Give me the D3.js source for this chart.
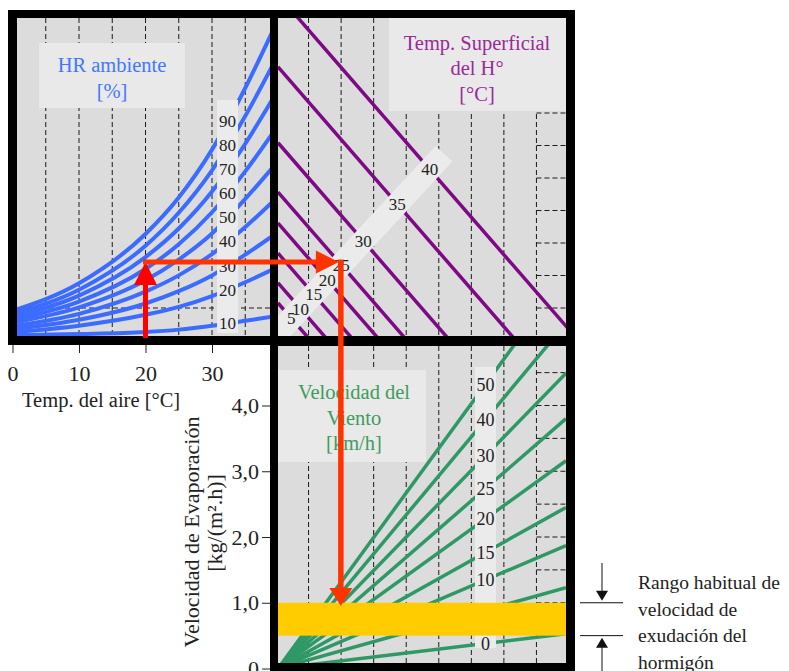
<!DOCTYPE html>
<html>
<head>
<meta charset="utf-8">
<title>Nomograma de evaporación</title>
<script src="https://cdn.jsdelivr.net/npm/d3@7"></script>
<style>
  body { margin: 0; background: #fff; }
  svg { display: block; }
  text { font-family: "Liberation Serif", "DejaVu Serif", serif; }
</style>
</head>
<body>
<div id="chart"></div>
<script>
// ---- values read off the nomograph ----
// top-left panel: air temperature (x) vs vapour pressure of the air, one curve per relative humidity
var airTemps = [0, 10, 20, 25, 30, 35, 39];
var humidityLevels = [90, 80, 70, 60, 50, 40, 30, 20, 10];
var hr90 = [0.55, 1.11, 2.11, 2.85, 3.82, 5.07, 6.19];
var hr80 = [0.49, 0.98, 1.87, 2.54, 3.40, 4.50, 5.50];
var hr70 = [0.43, 0.86, 1.64, 2.22, 2.97, 3.94, 4.82];
var hr60 = [0.37, 0.74, 1.40, 1.90, 2.55, 3.38, 4.13];
var hr50 = [0.31, 0.62, 1.17, 1.59, 2.12, 2.82, 3.44];
var hr40 = [0.24, 0.49, 0.94, 1.27, 1.70, 2.25, 2.75];
var hr30 = [0.18, 0.37, 0.70, 0.95, 1.27, 1.69, 2.06];
var hr20 = [0.12, 0.25, 0.47, 0.63, 0.85, 1.13, 1.38];
var hr10 = [0.06, 0.08, 0.12, 0.17, 0.25, 0.35, 0.43];
var humidityCurves = [hr90, hr80, hr70, hr60, hr50, hr40, hr30, hr20, hr10];

// top-right panel: concrete surface temperature lines (vapour pressure at the left edge)
var surfaceTemps = [5, 10, 15, 20, 25, 30, 35, 40];
var surfaceVapour = [0.71, 1.12, 1.72, 2.33, 2.96, 3.96, 5.50, 6.96];

// bottom panel: wind speed lines (evaporation rate at the right edge)
var windSpeeds = [0, 5, 10, 15, 20, 25, 30, 40, 50];
var windEvapAtEdge = [0.53, 1.23, 1.87, 2.45, 3.16, 3.80, 4.49, 5.25, 6.00];

var airTicks = [0, 10, 20, 30];
var evapTicks = [0, 1, 2, 3, 4];
var exudationRange = [0.5, 1.0];

// worked example drawn with the red arrows
var exampleAirTemp = 20;
var exampleVapour = 1.54;
var exampleSurfaceTemp = 25;
var exampleWind = 30;

var width = 789, height = 671;
var svg = d3.select("#chart").append("svg").attr("width", width).attr("height", height);

// panel inner areas
var A = {x0: 17, y0: 18, x1: 270, y1: 336};
var B = {x0: 278, y0: 18, x1: 566, y1: 336};
var C = {x0: 278, y0: 346, x1: 566, y1: 663};

var xT = d3.scaleLinear().domain([0, 40]).range([12.5, 278.5]);
var yV = d3.scaleLinear().domain([0, 6.5]).range([338, 17.5]);
var xD = d3.scaleLinear().domain([0, 6.72]).range([278, 566]);
var yE = d3.scaleLinear().domain([0, 4]).range([668.5, 405.5]);
// plain grid spacing of the right panels
var gx = d3.scaleLinear().domain([0, 9]).range([276, 569]);
var gy = d3.scaleLinear().domain([0, 10]).range([340.5, 15.5]);

var blue = "#3b6cff", purple = "#7d0a84", green = "#2f9966";

// black frames
svg.append("rect").attr("x", 8).attr("y", 10).attr("width", 567).attr("height", 335).attr("fill", "#000");
svg.append("rect").attr("x", 270).attr("y", 336).attr("width", 305).attr("height", 340).attr("fill", "#000");

var defs = svg.append("defs");
[["clipA", A], ["clipB", B], ["clipC", C]].forEach(function(p) {
  defs.append("clipPath").attr("id", p[0]).append("rect")
    .attr("x", p[1].x0).attr("y", p[1].y0)
    .attr("width", p[1].x1 - p[1].x0).attr("height", p[1].y1 - p[1].y0);
});

[A, B, C].forEach(function(p) {
  svg.append("rect").attr("x", p.x0).attr("y", p.y0)
    .attr("width", p.x1 - p.x0).attr("height", p.y1 - p.y0).attr("fill", "#dcdcdc");
});

function dash(g, x1, y1, x2, y2) {
  g.append("line").attr("x1", x1).attr("y1", y1).attr("x2", x2).attr("y2", y2)
    .attr("stroke", "#1a1a1a").attr("stroke-width", 1).attr("stroke-dasharray", "5,3");
}

// grids
var gA = svg.append("g").attr("clip-path", "url(#clipA)");
d3.range(5, 40, 5).forEach(function(t) { dash(gA, xT(t), A.y0, xT(t), A.y1); });
dash(gA, A.x0, gy(1), A.x1, gy(1));

var gB = svg.append("g").attr("clip-path", "url(#clipB)");
d3.range(1, 9).forEach(function(k) { dash(gB, gx(k), B.y0, gx(k), B.y1); });
d3.range(1, 8).forEach(function(k) { dash(gB, gx(8), gy(k), B.x1, gy(k)); });

var gC = svg.append("g").attr("clip-path", "url(#clipC)");
d3.range(1, 9).forEach(function(k) { dash(gC, gx(k), C.y0, gx(k), C.y1); });
d3.range(1, 4.6, 0.5).forEach(function(e) { dash(gC, gx(8), yE(e), C.x1, yE(e)); });

// title boxes
svg.append("rect").attr("x", 39).attr("y", 43).attr("width", 146).attr("height", 65).attr("fill", "#e9e9e9");
svg.append("rect").attr("x", 389).attr("y", B.y0).attr("width", B.x1 - 389).attr("height", 93).attr("fill", "#e9e9e9");
svg.append("rect").attr("x", C.x0).attr("y", 370).attr("width", 148).attr("height", 92).attr("fill", "#e9e9e9");

// ---- top-left: humidity curves ----
var hrLine = d3.line()
  .x(function(d, i) { return xT(airTemps[i]); })
  .y(function(d) { return yV(d); })
  .curve(d3.curveMonotoneX);
gA.selectAll("path.hr").data(humidityCurves).enter().append("path")
  .attr("class", "hr").attr("d", hrLine)
  .attr("fill", "none").attr("stroke", blue).attr("stroke-width", 4);

var hrLabelX = 227.5;
svg.append("rect").attr("x", 217).attr("y", 100).attr("width", 21).attr("height", 233).attr("fill", "#ebebeb");
svg.selectAll("text.hrl").data(humidityCurves).enter().append("text")
  .attr("class", "hrl")
  .attr("x", hrLabelX)
  .attr("y", function(d) { return yV(d3.scaleLinear().domain(airTemps).range(d)(xT.invert(hrLabelX))); })
  .attr("dy", "0.35em").attr("text-anchor", "middle")
  .attr("font-size", 17).attr("fill", "#222")
  .text(function(d, i) { return humidityLevels[i]; });

// ---- top-right: surface temperature lines ----
gB.selectAll("line.tc").data(surfaceVapour).enter().append("line")
  .attr("class", "tc")
  .attr("x1", xD(0)).attr("y1", function(d) { return yV(d); })
  .attr("x2", function(d) { return xD(d); }).attr("y2", yV(0))
  .attr("stroke", purple).attr("stroke-width", 3.5);

var band0 = [270, 341.4], band1 = [444, 153.8];
gB.append("line").attr("x1", band0[0]).attr("y1", band0[1]).attr("x2", band1[0]).attr("y2", band1[1])
  .attr("stroke", "#ebebeb").attr("stroke-width", 23);
var bandSlope = (band1[1] - band0[1]) / (band1[0] - band0[0]);
var tcSlope = (yV(0) - yV(1)) / (xD(1) - xD(0));
function bandX(v) {
  return (band0[1] - bandSlope * band0[0] - yV(v) + tcSlope * xD(0)) / (tcSlope - bandSlope);
}
svg.selectAll("text.tcl").data(surfaceVapour).enter().append("text")
  .attr("class", "tcl")
  .attr("x", function(d) { return bandX(d); })
  .attr("y", function(d) { return band0[1] + bandSlope * (bandX(d) - band0[0]); })
  .attr("dy", "0.35em").attr("text-anchor", "middle")
  .attr("font-size", 17).attr("fill", "#222")
  .text(function(d, i) { return surfaceTemps[i]; });

// ---- bottom: wind speed fan ----
gC.selectAll("line.w").data(windEvapAtEdge).enter().append("line")
  .attr("class", "w")
  .attr("x1", xD(0)).attr("y1", yE(0))
  .attr("x2", xD(6.72)).attr("y2", function(d) { return yE(d); })
  .attr("stroke", green).attr("stroke-width", 3.5);

var windLabelX = 485.5;
svg.append("rect").attr("x", 475).attr("y", 367).attr("width", 21).attr("height", 281).attr("fill", "#ebebeb");
svg.selectAll("text.wl").data(windEvapAtEdge).enter().append("text")
  .attr("class", "wl")
  .attr("x", windLabelX)
  .attr("y", function(d) { return yE(d * xD.invert(windLabelX) / 6.72); })
  .attr("dy", "0.35em").attr("text-anchor", "middle")
  .attr("font-size", 18).attr("fill", "#222")
  .text(function(d, i) { return windSpeeds[i]; });

svg.append("rect").attr("x", C.x0).attr("y", yE(exudationRange[1]))
  .attr("width", C.x1 - C.x0).attr("height", yE(exudationRange[0]) - yE(exudationRange[1]))
  .attr("fill", "#ffcc00");

// ---- titles inside panels ----
function lines(x, ys, txt, color, size) {
  txt.forEach(function(t, i) {
    svg.append("text").attr("x", x).attr("y", ys[i]).attr("dy", "0.35em")
      .attr("text-anchor", "middle").attr("font-size", size).attr("fill", color).text(t);
  });
}
lines(112, [65, 91], ["HR ambiente", "[%]"], "#4477ff", 20.5);
lines(477, [43, 68, 94], ["Temp. Superficial", "del H\u00b0", "[\u00b0C]"], "#9a2a9a", 20.5);
lines(354, [392, 418, 443], ["Velocidad del", "Viento", "[km/h]"], "#3d9d5d", 20.5);

// ---- axes ----
var xAxis = svg.append("g").attr("transform", "translate(0,345)")
  .call(d3.axisBottom(xT).tickValues(airTicks).tickSize(8).tickPadding(12));
var yAxis = svg.append("g").attr("transform", "translate(270,0)")
  .call(d3.axisLeft(yE).tickValues(evapTicks).tickSize(8).tickPadding(3)
    .tickFormat(function(d) { return d === 0 ? "0" : d3.format(".1f")(d).replace(".", ","); }));
[xAxis, yAxis].forEach(function(ax) {
  ax.select(".domain").remove();
  ax.selectAll("line").attr("stroke", "#222");
  ax.selectAll("text").attr("font-family", "Liberation Serif, serif").attr("font-size", 22).attr("fill", "#222");
});

svg.append("text").attr("x", 22).attr("y", 400).attr("dy", "0.35em")
  .attr("font-size", 20.5).attr("fill", "#222").text("Temp. del aire [\u00b0C]");

var yt = svg.append("g").attr("transform", "translate(191,532) rotate(-90)");
yt.append("text").attr("text-anchor", "middle").attr("dy", "0.35em")
  .attr("font-size", 22).attr("fill", "#222").text("Velocidad de Evaporación");
svg.append("g").attr("transform", "translate(214,523) rotate(-90)")
  .append("text").attr("text-anchor", "middle").attr("dy", "0.35em")
  .attr("font-size", 22).attr("fill", "#222").text("[kg/(m\u00b2.h)]");

// ---- exudation range note ----
function tri(g, tx, ty, dir, len, half, color) {
  var pts;
  if (dir === "up") pts = [[tx, ty], [tx - half, ty + len], [tx + half, ty + len]];
  if (dir === "down") pts = [[tx, ty], [tx - half, ty - len], [tx + half, ty - len]];
  if (dir === "right") pts = [[tx, ty], [tx - len, ty - half], [tx - len, ty + half]];
  g.append("polygon").attr("points", pts.map(function(p) { return p.join(","); }).join(" ")).attr("fill", color);
}
var yTop = yE(exudationRange[1]), yBot = yE(exudationRange[0]);
svg.append("line").attr("x1", 580).attr("x2", 623).attr("y1", yTop).attr("y2", yTop).attr("stroke", "#111");
svg.append("line").attr("x1", 580).attr("x2", 623).attr("y1", yBot).attr("y2", yBot).attr("stroke", "#111");
svg.append("line").attr("x1", 602).attr("x2", 602).attr("y1", 563).attr("y2", yTop - 10).attr("stroke", "#111");
tri(svg, 602, yTop - 2, "down", 10, 6, "#111");
svg.append("line").attr("x1", 602).attr("x2", 602).attr("y1", yBot + 10).attr("y2", 675).attr("stroke", "#111");
tri(svg, 602, yBot + 2, "up", 10, 6, "#111");
["Rango habitual de", "velocidad de", "exudación del", "hormigón"].forEach(function(t, i) {
  svg.append("text").attr("x", 638).attr("y", 589 + i * 26.5)
    .attr("font-size", 19.5).attr("fill", "#222").text(t);
});

// ---- red example path ----
var ax = xT(exampleAirTemp);
var ay = yV(exampleVapour);
var sIdx = surfaceTemps.indexOf(exampleSurfaceTemp);
var diff = surfaceVapour[sIdx] - exampleVapour;
var bx = xD(diff);
var wIdx = windSpeeds.indexOf(exampleWind);
var cy = yE(windEvapAtEdge[wIdx] * diff / 6.72);

svg.append("line").attr("x1", ax).attr("x2", ax).attr("y1", A.y1 + 2).attr("y2", ay + 20)
  .attr("stroke", "#ff0000").attr("stroke-width", 5);
tri(svg, ax, ay, "up", 23, 11.5, "#ff0000");
svg.append("line").attr("x1", ax - 2.5).attr("x2", bx - 20).attr("y1", ay).attr("y2", ay)
  .attr("stroke", "#ff3300").attr("stroke-width", 5);
tri(svg, bx, ay, "right", 23, 11.5, "#ff3300");
svg.append("line").attr("x1", bx + 2).attr("x2", bx + 2).attr("y1", ay - 2.5).attr("y2", cy - 16)
  .attr("stroke", "#ff3300").attr("stroke-width", 5.5);
tri(svg, bx + 2, cy, "down", 18, 11.5, "#ff3300");
</script>
</body>
</html>
